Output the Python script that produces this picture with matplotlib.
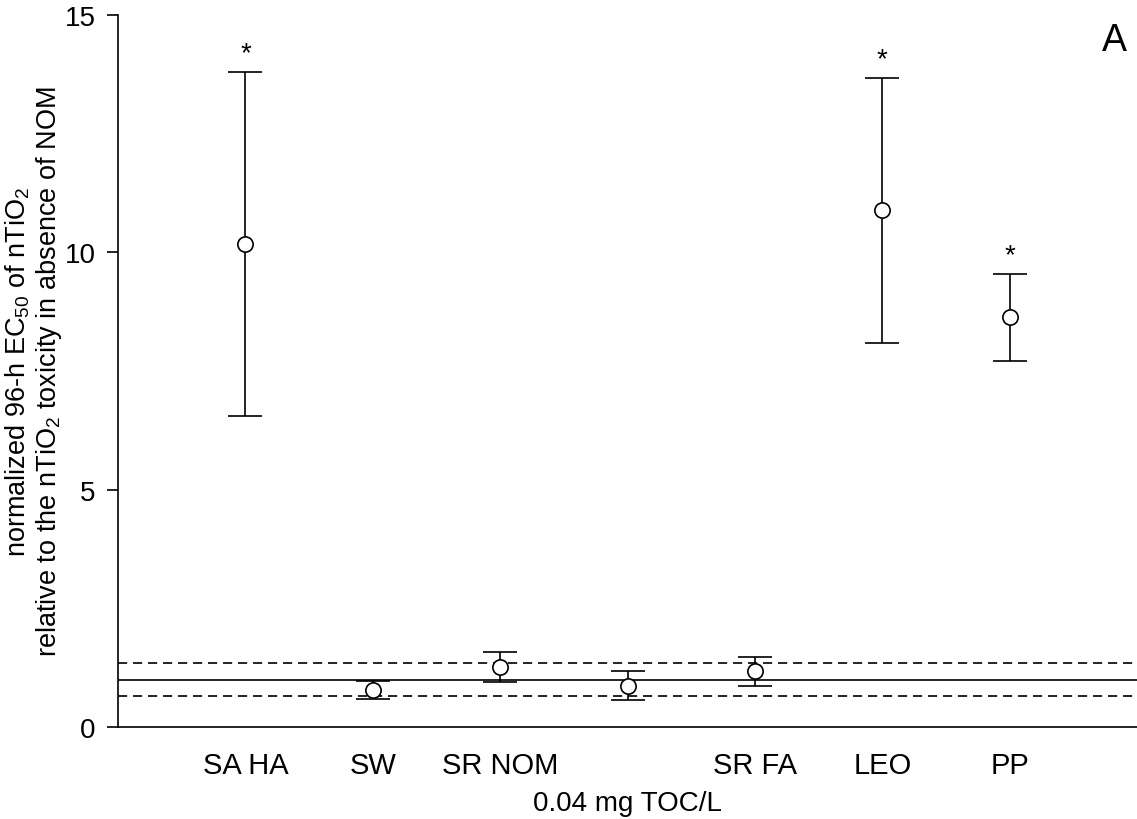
import matplotlib
matplotlib.use("Agg")
import matplotlib.pyplot as plt

plt.rcParams['font.family'] = ['Liberation Sans', 'DejaVu Sans']
plt.rcParams['mathtext.fontset'] = 'custom'
plt.rcParams['mathtext.rm'] = 'Liberation Sans'
plt.rcParams['mathtext.it'] = 'Liberation Sans'

# valeurs
categories = ["SA HA", "SW", "SR NOM", "", "SR FA", "LEO", "PP"]
moyennes = [10.18, 0.78, 1.27, 0.87, 1.17, 10.89, 8.63]
erreurs = [3.62, 0.19, 0.32, 0.30, 0.30, 2.79, 0.92]
significatif = [True, False, False, False, False, True, True]
reference = 1.0
bande = [0.65, 1.35]

fig = plt.figure(figsize=(11.37, 8.2), dpi=100)
ax = fig.add_axes([0.1038, 0.1122, 0.8962, 0.8683])

x = list(range(1, len(categories) + 1))

ax.axhline(reference, color='black', linewidth=1.2, zorder=1)
for b in bande:
    ax.axhline(b, color='black', linewidth=1.2, linestyle=(0, (5.5, 3.5)), zorder=1)

ax.errorbar(x, moyennes, yerr=erreurs, fmt='o', color='black', ecolor='black',
            elinewidth=1.2, capsize=12, capthick=1.2, markersize=11,
            markerfacecolor='white', markeredgecolor='black', markeredgewidth=1.2, zorder=3)

for xi, m, e, s in zip(x, moyennes, erreurs, significatif):
    if s:
        ax.text(xi, m + e + 0.12, "*", ha='center', va='bottom', fontsize=20)

ax.set_xlim(0, 8)
ax.set_ylim(0, 15)
ax.set_xticks(x)
ax.set_xticklabels(categories, fontsize=21)
ax.set_yticks([0, 5, 10, 15])
ax.tick_params(axis='x', length=0, pad=17)
ax.tick_params(axis='y', direction='out', length=8, width=1.2, labelsize=20, pad=8)

ax.spines['top'].set_visible(False)
ax.spines['right'].set_visible(False)
ax.spines['left'].set_linewidth(1.2)
ax.spines['bottom'].set_linewidth(1.2)

ax.set_ylabel("normalized 96-h EC$_{50}$ of nTiO$_2$\nrelative to the nTiO$_2$ toxicity in absence of NOM",
              fontsize=19.5, linespacing=1.1)
ax.yaxis.set_label_coords(-0.053, 0.5)
ax.set_xlabel("0.04 mg TOC/L", fontsize=20, labelpad=8)

ax.text(0.99, 0.965, "A", transform=ax.transAxes, ha='right', va='center', fontsize=27)

fig.savefig("out.png", dpi=100)
